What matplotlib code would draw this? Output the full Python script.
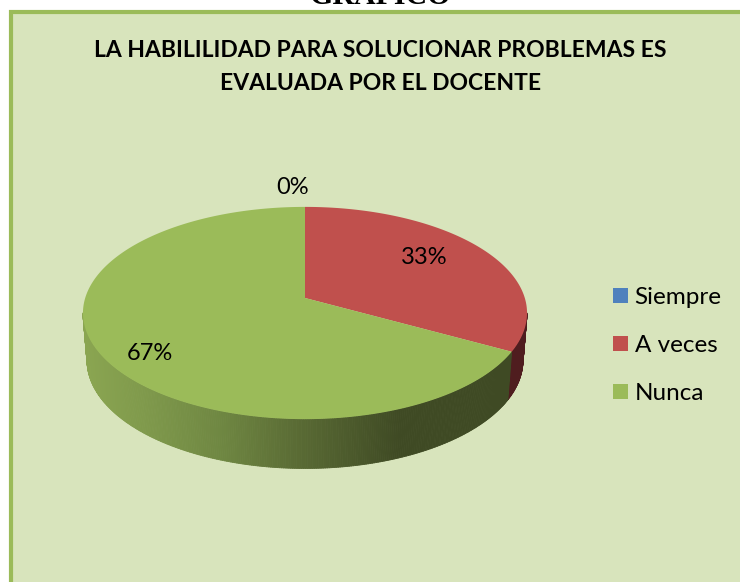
"""
Pie chart in pseudo 3D: habilidad para solucionar problemas
"""

import numpy as np
import matplotlib
matplotlib.use('Agg')
import matplotlib.pyplot as plt
from matplotlib.collections import PolyCollection
from matplotlib.patches import Rectangle, Patch

# Data
categories = ['Siempre', 'A veces', 'Nunca']
values = [0, 33, 67]
pct_labels = ['0%', '33%', '67%']
title_lines = 'LA HABILILIDAD PARA SOLUCIONAR PROBLEMAS ES\nEVALUADA POR EL DOCENTE'
heading = 'GRAFICO'

# Styles
top_colors = ['#4F81BD', '#C0504D', '#9BBB59']
wall_red = '#4F1D1F'
wall_x = [85, 150, 220, 300, 400, 530]
wall_rgb = np.array([[0x8A, 0xA5, 0x51], [0x7E, 0x98, 0x4B], [0x6F, 0x87, 0x42],
                     [0x59, 0x6A, 0x34], [0x3F, 0x4A, 0x24], [0x3F, 0x4A, 0x24]]) / 255

# Perspective of the pie in pixel coordinates
CX = 305
K = 0.1415


def project(theta, a, b, apex):
    # theta in degrees, circle seen with the back side compressed
    t = np.radians(theta)
    d = 1 + K * np.sin(t)
    return CX + a * np.cos(t) / d, apex - b * np.sin(t) / d


def top_xy(theta):
    return project(theta, 219.8, 104, 298)


def bottom_xy(theta):
    return project(theta, 215.8, 106, 345)


fig = plt.figure(figsize=(7.4, 5.82), dpi=100, facecolor='white')
ax = fig.add_axes([0, 0, 1, 1])
ax.set_xlim(0, 740)
ax.set_ylim(582, 0)
ax.axis('off')
plt.rcParams['font.family'] = ['Lato', 'DejaVu Sans']

# Panel
ax.add_patch(Rectangle((11, 12), 740, 600, facecolor='#D8E4BC', edgecolor='#9BBB59', lw=3))

# Slice angles, clockwise from the top
edges = 90 - np.concatenate([[0], np.cumsum(values)]) / np.sum(values) * 360

# Side wall
polys, cols = [], []
for i in range(len(values)):
    n = max(int(abs(edges[i] - edges[i + 1])), 1) * 2
    th = np.linspace(edges[i], edges[i + 1], n + 1)
    for t0, t1 in zip(th[:-1], th[1:]):
        if np.sin(np.radians((t0 + t1) / 2)) >= -0.14:
            continue
        x0, y0 = top_xy(t0)
        x1, y1 = top_xy(t1)
        x2, y2 = bottom_xy(t1)
        x3, y3 = bottom_xy(t0)
        polys.append([(x0, y0), (x1, y1), (x2, y2), (x3, y3)])
        if i == 1:
            cols.append(matplotlib.colors.to_rgb(wall_red))
        else:
            xm = (x0 + x1) / 2
            cols.append([np.interp(xm, wall_x, wall_rgb[:, c]) for c in range(3)])
ax.add_collection(PolyCollection(polys, facecolors=cols, edgecolors=cols, linewidths=0.6))

# Top of the pie
for i in range(len(values)):
    th = np.linspace(edges[i], edges[i + 1], 300)
    x, y = top_xy(th)
    ax.fill(np.r_[CX, x], np.r_[298, y], color=top_colors[i], lw=0)

# Data labels
ax.text(293, 187, pct_labels[0], fontsize=17, ha='center', va='center', color='black')
ax.text(424, 258, pct_labels[1], fontsize=17, ha='center', va='center', color='black')
ax.text(150, 354, pct_labels[2], fontsize=17, ha='center', va='center', color='black')

# Titles
ax.text(380, 4, heading, fontsize=21.5, family='Liberation Serif', fontweight='bold',
        ha='center', va='baseline', color='black')
ax.text(380.5, 67, title_lines, fontsize=16.5, fontweight='bold', ha='center', va='center',
        linespacing=1.65, color='black')

# Legend
handles = [Patch(facecolor=c, edgecolor='none') for c in top_colors]
ax.legend(handles, categories, loc='upper left', bbox_to_anchor=(613 / 740, 1 - 287 / 582),
          frameon=False, fontsize=17.5, handlelength=0.6, handleheight=0.6,
          handletextpad=0.29, labelspacing=1.11, borderpad=0, borderaxespad=0)

plt.savefig('out.png', dpi=100)
